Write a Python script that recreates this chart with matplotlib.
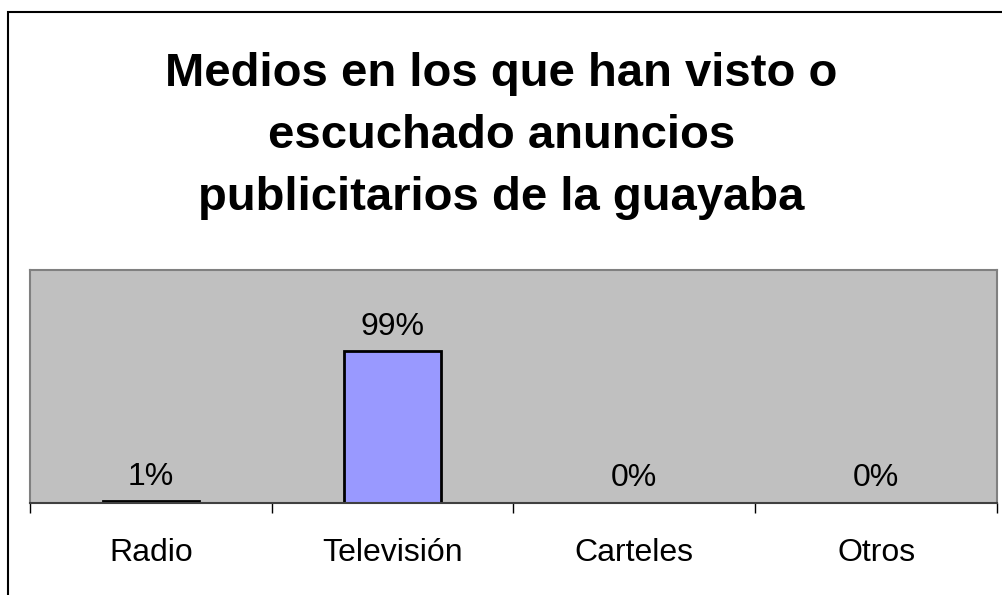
import matplotlib
matplotlib.use("Agg")
import matplotlib.pyplot as plt
from matplotlib.patches import Rectangle

plt.rcParams['font.family'] = ['Liberation Sans', 'DejaVu Sans']

# data
categorias = ["Radio", "Televisión", "Carteles", "Otros"]
porcentajes = [1, 99, 0, 0]
etiquetas = ["1%", "99%", "0%", "0%"]
titulo = "Medios en los que han visto o\nescuchado anuncios\npublicitarios de la guayaba"

W, H = 1003, 595
fig = plt.figure(figsize=(W / 100, H / 100), dpi=100)

# outer chart frame (runs off the right/bottom edge)
fig.patches.append(Rectangle((8.5 / W, -0.05), 1.1, 1 - 11.5 / H + 0.05,
                             transform=fig.transFigure, fill=False,
                             edgecolor="black", linewidth=1.5))

ax = fig.add_axes([30 / W, (H - 503) / H, (997 - 30) / W, (503 - 270) / H])
ax.set_facecolor("#C0C0C0")

x = range(len(categorias))
bars = ax.bar(x, porcentajes, width=0.4, color="#9999FF",
              edgecolor="black", linewidth=2)

for xi, v, lab in zip(x, porcentajes, etiquetas):
    ax.annotate(lab, (xi, v), xytext=(0, 7), textcoords="offset points",
                ha="center", va="bottom", fontsize=23)

ax.set_xlim(-0.5, len(categorias) - 0.5)
ax.set_ylim(0, 152)
ax.set_yticks([])

ax.set_xticks(list(x))
ax.set_xticklabels(categorias, fontsize=23)
ax.tick_params(axis="x", which="major", length=0, pad=25)
ax.set_xticks([i - 0.5 for i in range(len(categorias) + 1)], minor=True)
ax.tick_params(axis="x", which="minor", length=7, width=1, direction="out",
               color="black")

for side in ("top", "left", "right"):
    ax.spines[side].set_color("#808080")
    ax.spines[side].set_linewidth(1.5)
ax.spines["bottom"].set_color("#404040")
ax.spines["bottom"].set_linewidth(1.5)

fig.text(0.5, 1 - 136 / H, titulo, ha="center", va="center",
         fontsize=34, fontweight="bold", linespacing=1.54)

fig.savefig("out.png", dpi=100)
